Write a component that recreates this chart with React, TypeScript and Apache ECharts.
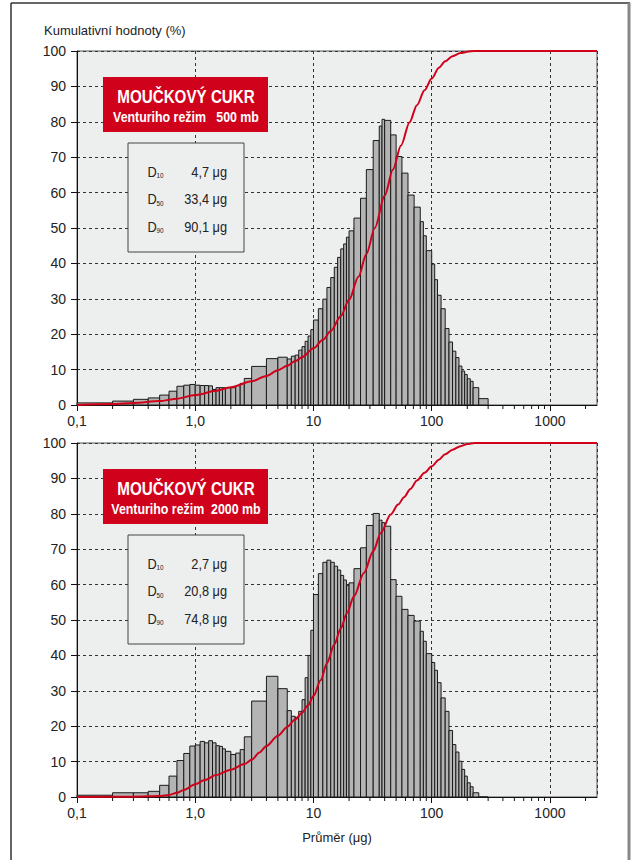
import React, { useEffect, useRef } from 'react';
import * as echarts from 'echarts';

// bin edges of the particle-size classes (μm)
const EDGES = [
  0.1, 0.2, 0.3, 0.4, 0.5, 0.6, 0.7, 0.8, 0.9, 1.0,
  1.1, 1.2, 1.3, 1.4, 1.5, 1.6, 1.7, 1.8, 2.0, 2.2, 2.4, 2.6, 3.0,
  4.0, 5.0, 6.0, 6.5, 7.0, 7.5, 8.0, 8.5, 9.0, 9.5, 10,
  11, 12, 13, 14, 15, 16, 17, 18, 19, 20, 22, 25, 28, 32, 36, 38, 40,
  45, 50, 56, 63, 71, 80, 85, 90, 100,
  106, 112, 120, 130, 140, 150, 160, 170, 180, 190, 200, 212, 224, 250, 300,
];

// histogram heights (one per class), 500 mb
const TOP_HEIGHTS = [
  0.6, 1.1, 1.6, 2.0, 2.8, 3.9, 5.3, 5.6, 5.8,
  5.6, 5.5, 5.5, 5.4, 4.4, 4.9, 4.9, 4.9, 4.9, 4.9, 5.5, 6.1, 7.5,
  10.9, 13.1, 13.5, 13.0, 13.8, 14.1, 15.5, 16.5, 18.0, 19.5, 21.3,
  24.0, 27.2, 29.9, 33.2, 36.0, 38.9, 41.7, 44.1, 45.5, 47.4, 49.2, 52.8, 58.4, 66.5, 74.7, 78.8, 80.7,
  80.4, 76.3, 70.2, 65.5, 59.3, 55.9, 51.8, 47.8, 43.6,
  39.8, 35.4, 31.0, 27.2, 21.6, 17.8, 15.2, 13.4, 11.0, 9.6, 8.6, 7.4, 6.7, 4.9, 1.8,
];

// histogram heights (one per class), 2000 mb
const BOTTOM_HEIGHTS = [
  0.5, 1.2, 1.2, 1.6, 3.3, 5.9, 10.3, 12.3, 14.4,
  14.7, 15.7, 15.3, 15.9, 15.3, 14.5, 14.3, 13.6, 12.9, 12.0, 12.4, 13.4, 17.0,
  27.1, 34.1, 30.6, 24.4, 22.8, 22.5, 24.2, 27.5, 33.7, 40.0, 47.1,
  57.2, 63.1, 66.3, 66.9, 66.3, 65.2, 64.1, 62.6, 61.3, 59.7, 60.5, 64.5, 70.4, 76.7, 80.1, 78.2, 77.5,
  76.5, 61.4, 56.7, 53.0, 51.3, 49.7, 46.8, 44.0, 40.5,
  38.0, 35.8, 32.3, 28.0, 24.2, 18.8, 14.8, 12.7, 10.1, 7.8, 5.9, 4.0, 2.9, 1.2, 0,
];

// cumulative curves
const TOP_CUM_X = [0.1, 0.2, 0.3, 0.5, 0.7, 1.0, 1.5, 2.0, 3.0, 4.0, 5.0, 6.0, 7.0, 8.0, 10, 12, 14, 17, 20, 24, 28, 33, 40, 47, 55, 65, 75, 87, 100, 115, 130, 150, 175, 200, 230, 2500];
const TOP_CUM_Y = [0, 0.3, 0.6, 1.1, 1.8, 2.8, 4.0, 5.0, 6.7, 8.2, 9.8, 11.1, 12.4, 13.5, 16.0, 18.4, 20.9, 25.1, 29.7, 36.2, 42.6, 50.0, 59.1, 66.5, 73.3, 79.9, 84.7, 88.9, 92.2, 95.3, 97.1, 98.5, 99.4, 99.8, 100, 100];
const BOTTOM_CUM_X = [0.1, 0.3, 0.5, 0.6, 0.7, 0.8, 1.0, 1.2, 1.5, 2.0, 2.6, 3.0, 3.5, 4.0, 5.0, 6.0, 7.0, 8.0, 9.0, 10, 11.5, 13, 15, 17, 19.2, 22, 26.7, 32, 37.1, 45, 52, 58.4, 66, 75, 87, 100, 115, 130, 150, 175, 200, 230, 2500];
const BOTTOM_CUM_Y = [0, 0.1, 0.3, 0.6, 1.2, 2.0, 3.6, 4.8, 6.2, 7.7, 9.3, 10.5, 12.6, 14.4, 17.3, 19.8, 21.9, 23.8, 25.9, 28.5, 33.0, 37.8, 43.1, 47.6, 52.0, 56.7, 63.3, 69.4, 74.6, 79.8, 82.6, 84.7, 87.0, 89.4, 91.6, 93.4, 95.3, 96.8, 98.1, 99.1, 99.7, 100, 100];

const MINOR_TICKS = [
  0.2, 0.3, 0.4, 0.5, 0.6, 0.7, 0.8, 0.9,
  2, 3, 4, 5, 6, 7, 8, 9,
  20, 30, 40, 50, 60, 70, 80, 90,
  200, 300, 400, 500, 600, 700, 800, 900, 2000,
];
const X_TICK_LABELS = ['0,1', '1,0', '10', '100', '1000']; // 10^-1 .. 10^3
const X_MIN = 0.1;
const X_MAX = 2500;

const Y_TITLE = 'Kumulativní hodnoty (%)';
const X_TITLE = 'Průměr (μg)';
const PANEL_TITLE = 'MOUČKOVÝ CUKR';
const PANEL_SUBTITLES = ['Venturiho režim   500 mb', 'Venturiho režim  2000 mb'];
const D_SUBS = ['10', '50', '90'];
const TOP_D_VALUES = ['4,7 μg', '33,4 μg', '90,1 μg'];
const BOTTOM_D_VALUES = ['2,7 μg', '20,8 μg', '74,8 μg'];

const FONT = "'Liberation Sans', Arial, sans-serif";
const RED = '#d0021b';
const BG = '#edeeee';
const TEXT = '#222';

const GRID_LEFT = 77;
const GRID_W = 520;
const GRID_H = 354;
const GRID_TOPS = [51, 443];

function xLabel(v: number): string {
  const e = Math.log10(v);
  const r = Math.round(e);
  if (Math.abs(e - r) > 1e-6) return '';
  return X_TICK_LABELS[r + 1] ?? '';
}

function txt(x: number, y: number, text: string, font: string, align: string, fill: string, sx = 1) {
  return {
    type: 'text', z: 101, x, y, scaleX: sx,
    style: { text, fill, font, align, verticalAlign: 'middle' },
  };
}

function panelGraphics(top: number, subtitle: string, values: string[]) {
  const els: any[] = [];
  const bx = 103;
  const by = top + 26;
  els.push({
    type: 'rect', z: 100,
    shape: { x: bx, y: by, width: 165, height: 55 },
    style: { fill: RED },
  });
  els.push(txt(bx + 83, by + 19, PANEL_TITLE, `bold 19px ${FONT}`, 'center', '#fff', 0.8));
  els.push(txt(bx + 83, by + 39.5, subtitle, `bold 15.5px ${FONT}`, 'center', '#fff', 0.8));
  const sy = top + 92;
  els.push({
    type: 'rect', z: 100,
    shape: { x: 128, y: sy, width: 116, height: 109 },
    style: { fill: BG, stroke: '#444', lineWidth: 1 },
  });
  values.forEach((val, i) => {
    const ry = sy + 28.5 + i * 27.5;
    els.push(txt(147.5, ry, 'D', `15px ${FONT}`, 'left', TEXT, 0.85));
    els.push(txt(156.5, ry + 4, D_SUBS[i], `7.5px ${FONT}`, 'left', TEXT, 0.85));
    els.push(txt(227, ry, val, `15px ${FONT}`, 'right', TEXT, 0.85));
  });
  return els;
}

export default function App() {
  const ref = useRef<HTMLDivElement>(null);

  useEffect(() => {
    if (!ref.current) return;
    const chart = echarts.init(ref.current, undefined, { renderer: 'svg' });

    const barData = (h: number[]) => EDGES.slice(0, -1).map((e, i) => [e, EDGES[i + 1], h[i]]);
    const cumData = (xs: number[], ys: number[]) => xs.map((x, i) => [x, ys[i]]);
    const tickData = MINOR_TICKS.map((v) => [v, 0]);

    const grids = GRID_TOPS.map((t) => ({
      left: GRID_LEFT, top: t, width: GRID_W, height: GRID_H,
      show: true, backgroundColor: BG, borderColor: '#555', borderWidth: 1,
    }));

    const xAxes = GRID_TOPS.map((_, gi) => ({
      type: 'log', logBase: 10, gridIndex: gi, min: X_MIN, max: X_MAX,
      axisLine: { show: true, lineStyle: { color: '#111', width: 1 } },
      axisTick: { show: true, length: 6, lineStyle: { color: '#111' } },
      axisLabel: { formatter: xLabel, fontFamily: FONT, fontSize: 14, color: TEXT, margin: 9, showMaxLabel: false },
      splitLine: { show: true, lineStyle: { color: '#333', type: [3, 3], width: 1 } },
      name: gi === 1 ? X_TITLE : '',
      nameLocation: 'middle', nameGap: 34,
      nameTextStyle: { fontFamily: FONT, fontSize: 13, color: TEXT },
    }));

    const yAxes = GRID_TOPS.map((_, gi) => ({
      type: 'value', gridIndex: gi, min: 0, max: 100, interval: 10,
      axisLine: { show: true, lineStyle: { color: '#111', width: 1 } },
      axisTick: { show: true, length: 6, lineStyle: { color: '#111' } },
      axisLabel: { fontFamily: FONT, fontSize: 14, color: TEXT, margin: 11 },
      splitLine: { show: true, lineStyle: { color: '#333', type: [3, 3], width: 1 } },
    }));

    const barSeries = (h: number[], gi: number) => ({
      type: 'custom', xAxisIndex: gi, yAxisIndex: gi, z: 3,
      encode: { x: [0, 1], y: 2 },
      data: barData(h),
      renderItem: (_p: any, api: any) => {
        const p0 = api.coord([api.value(0), 0]);
        const p1 = api.coord([api.value(1), api.value(2)]);
        return {
          type: 'rect',
          shape: { x: p0[0], y: p1[1], width: p1[0] - p0[0], height: p0[1] - p1[1] },
          style: { fill: '#b4b4b4', stroke: '#1a1a1a', lineWidth: 1 },
        };
      },
    });

    const tickSeries = (gi: number) => ({
      type: 'custom', xAxisIndex: gi, yAxisIndex: gi, z: 3, silent: true,
      encode: { x: 0, y: 1 },
      data: tickData,
      renderItem: (_p: any, api: any) => {
        const p = api.coord([api.value(0), 0]);
        return {
          type: 'line',
          shape: { x1: p[0], y1: p[1], x2: p[0], y2: p[1] + 4 },
          style: { stroke: '#111', lineWidth: 1 },
        };
      },
    });

    const lineSeries = (xs: number[], ys: number[], gi: number) => ({
      type: 'line', xAxisIndex: gi, yAxisIndex: gi, z: 5,
      data: cumData(xs, ys),
      smooth: 0.3, smoothMonotone: 'x', showSymbol: false, symbol: 'none',
      lineStyle: { color: RED, width: 2 },
    });

    const graphics: any[] = [
      { type: 'line', z: 100, shape: { x1: 11, y1: 3, x2: 11, y2: 860 }, style: { stroke: '#333', lineWidth: 1.5 } },
      { type: 'line', z: 100, shape: { x1: 11, y1: 3, x2: 630, y2: 3 }, style: { stroke: '#333', lineWidth: 1.5 } },
      { type: 'line', z: 100, shape: { x1: 629, y1: 3, x2: 629, y2: 860 }, style: { stroke: '#888', lineWidth: 3 } },
      txt(44, 30, Y_TITLE, `13px ${FONT}`, 'left', TEXT),
      ...panelGraphics(GRID_TOPS[0], PANEL_SUBTITLES[0], TOP_D_VALUES),
      ...panelGraphics(GRID_TOPS[1], PANEL_SUBTITLES[1], BOTTOM_D_VALUES),
    ];

    chart.setOption({
      animation: false,
      backgroundColor: '#fff',
      grid: grids,
      xAxis: xAxes,
      yAxis: yAxes,
      series: [
        barSeries(TOP_HEIGHTS, 0),
        barSeries(BOTTOM_HEIGHTS, 1),
        tickSeries(0),
        tickSeries(1),
        lineSeries(TOP_CUM_X, TOP_CUM_Y, 0),
        lineSeries(BOTTOM_CUM_X, BOTTOM_CUM_Y, 1),
      ],
      graphic: graphics,
    });

    return () => chart.dispose();
  }, []);

  return (
    <div
      ref={ref}
      style={{ position: 'fixed', left: 0, top: 0, width: 632, height: 860 }}
    />
  );
}
